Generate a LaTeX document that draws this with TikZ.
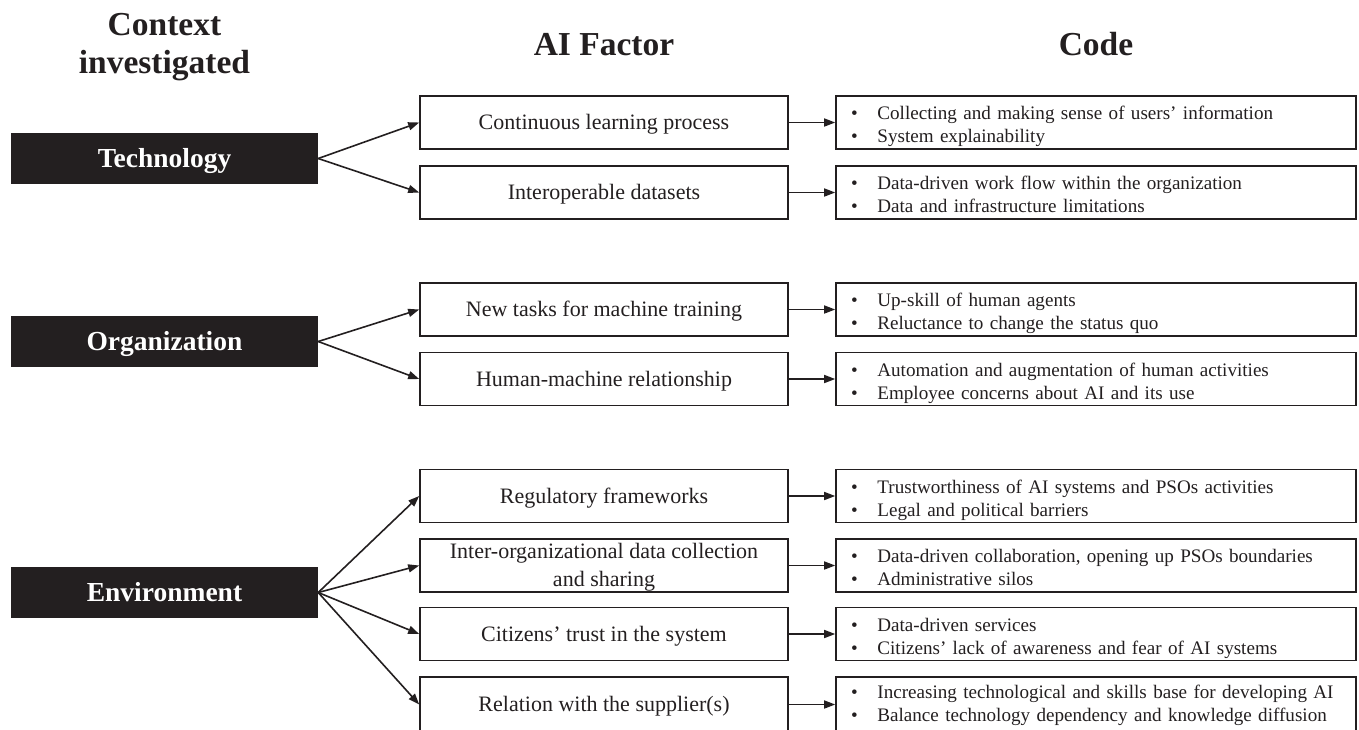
\documentclass[tikz,border=0pt]{standalone}
\usepackage{fontspec}
\setmainfont{Liberation Serif}
\usetikzlibrary{arrows.meta}
\definecolor{ink}{RGB}{35,31,32}
\newcommand\cbul{\makebox[26.4pt][l]{\textbullet}}
\begin{document}
\begin{tikzpicture}[x=1pt,y=-1pt,
  ctx/.style={fill=ink, draw=none, minimum width=307pt, minimum height=51pt, inner sep=0pt, text=white,
    font=\bfseries\fontsize{27.5}{30}\selectfont, text height=18.6pt, text depth=0pt},
  fac/.style={draw=ink, line width=1.6pt, minimum width=368pt, minimum height=53pt, inner sep=0pt,
    align=center, text=ink, font=\fontsize{22}{28}\selectfont, text height=14.6pt, text depth=0pt},
  cod/.style={draw=ink, line width=1.6pt, minimum width=520pt, minimum height=53pt, inner xsep=14.8pt,
    inner ysep=0pt, text width=490pt, align=left, text=ink, font=\fontsize{19.1}{23}\selectfont,
    text height=17pt, text depth=23pt},
  hd/.style={text=ink, font=\bfseries\fontsize{33.5}{38}\selectfont, inner sep=0pt, align=center},
  arr/.style={draw=ink, line width=1.6pt, -{Triangle[length=11pt,width=8pt]}}
]
\useasboundingbox (0,0) rectangle (1359,729);

% headers
\node[hd, anchor=base] (hctx) at (164.5,73) {Context\\investigated};
\node[hd, anchor=base] (hfac) at (604,55) {AI Factor};
\node[hd, anchor=base] (hcod) at (1096,55) {Code};

% contexts
\node[ctx] (tech) at (164.5,158.5) {Technology};
\node[ctx] (org) at (164.5,341.5) {Organization};
\node[ctx] (env) at (164.5,592.5) {Environment};

% factors
\node[fac] (f1) at (604,122.5) {Continuous learning process};
\node[fac] (f2) at (604,192.5) {Interoperable datasets};
\node[fac] (f3) at (604,309.5) {New tasks for machine training};
\node[fac] (f4) at (604,379) {Human-machine relationship};
\node[fac] (f5) at (604,496) {Regulatory frameworks};
\node[fac, text height=42.6pt, text depth=0pt] (f6) at (604,565.5) {Inter-organizational data collection\\and sharing};
\node[fac] (f7) at (604,634) {Citizens’ trust in the system};
\node[fac, minimum height=55pt] (f8) at (604,704.5) {Relation with the supplier(s)};

% codes
\node[cod] (c1) at (1096,122.5) {\cbul Collecting and making sense of users’ information\\\cbul System explainability};
\node[cod] (c2) at (1096,192.5) {\cbul Data-driven work flow within the organization\\\cbul Data and infrastructure limitations};
\node[cod] (c3) at (1096,309.5) {\cbul Up-skill of human agents\\\cbul Reluctance to change the status quo};
\node[cod] (c4) at (1096,379) {\cbul Automation and augmentation of human activities\\\cbul Employee concerns about AI and its use};
\node[cod] (c5) at (1096,496) {\cbul Trustworthiness of AI systems and PSOs activities\\\cbul Legal and political barriers};
\node[cod] (c6) at (1096,565.5) {\cbul Data-driven collaboration, opening up PSOs boundaries\\\cbul Administrative silos};
\node[cod] (c7) at (1096,634) {\cbul Data-driven services\\\cbul Citizens’ lack of awareness and fear of AI systems};
\node[cod, minimum height=55pt, text height=10pt] (c8) at (1096,704.5) {\cbul Increasing technological and skills base for developing AI\\\cbul Balance technology dependency and knowledge diffusion};

% connectors
\draw[arr] (tech.east) -- (f1.west);
\draw[arr] (tech.east) -- (f2.west);
\draw[arr] (org.east) -- (f3.west);
\draw[arr] (org.east) -- (f4.west);
\draw[arr] (env.east) -- (f5.west);
\draw[arr] (env.east) -- (f6.west);
\draw[arr] (env.east) -- (f7.west);
\draw[arr] (env.east) -- (f8.west);
\foreach \i in {1,...,8} {\draw[arr] (f\i.east) -- (c\i.west);}
\end{tikzpicture}
\end{document}
